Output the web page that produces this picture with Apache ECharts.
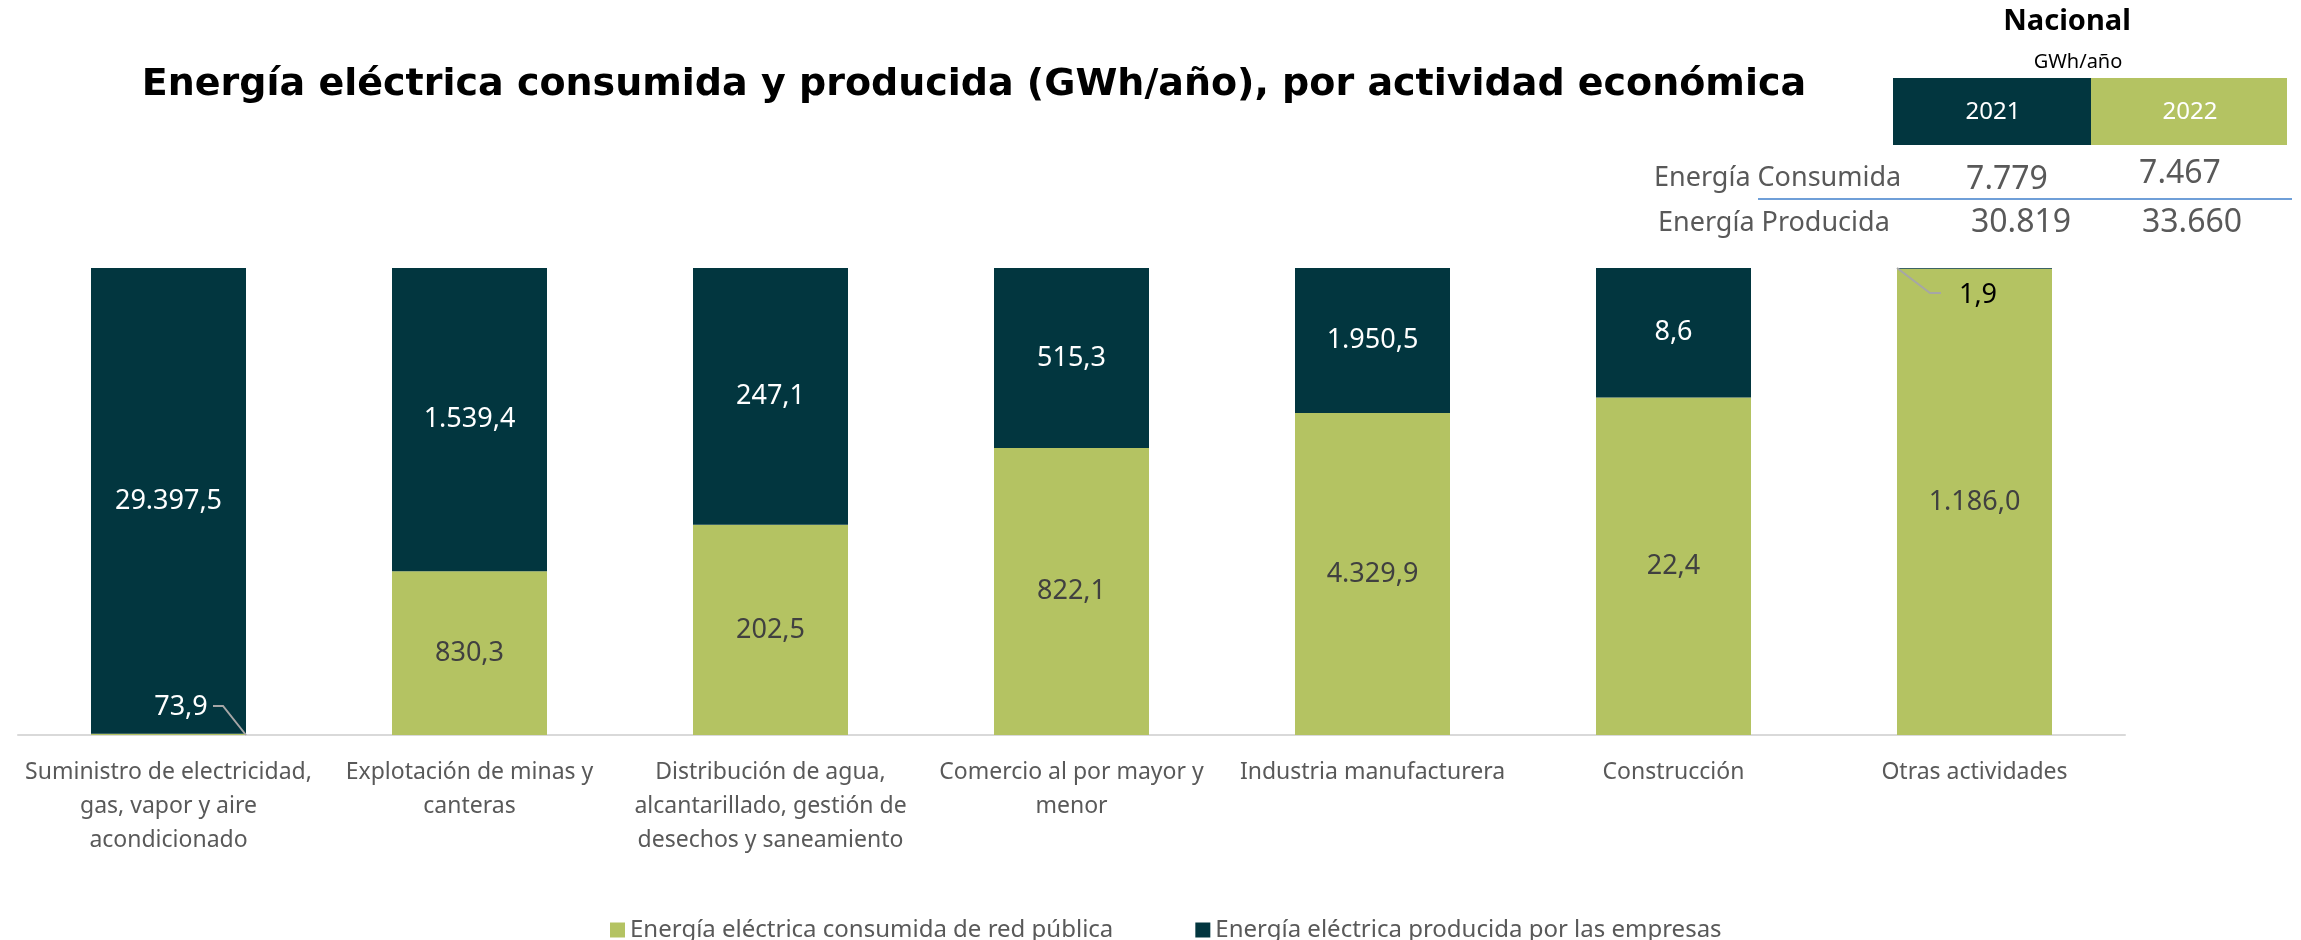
<!DOCTYPE html>
<html>
<head>
<meta charset="utf-8">
<script src="https://cdn.jsdelivr.net/npm/echarts@6/dist/echarts.min.js"></script>
<style>
  html, body { margin: 0; padding: 0; background: #fff; }
  #main { width: 2301px; height: 940px; }
</style>
</head>
<body>
<div id="main"></div>
<script>
// categorias (saltos de linea como en el original)
var categories = [
  'Suministro de electricidad,\ngas, vapor y aire\nacondicionado',
  'Explotación de minas y\ncanteras',
  'Distribución de agua,\nalcantarillado, gestión de\ndesechos y saneamiento',
  'Comercio al por mayor y\nmenor',
  'Industria manufacturera',
  'Construcción',
  'Otras actividades'
];
var consumida = [73.9, 830.3, 202.5, 822.1, 4329.9, 22.4, 1186.0];
var producida = [29397.5, 1539.4, 247.1, 515.3, 1950.5, 8.6, 1.9];
var seriesNames = ['Energía eléctrica consumida de red pública', 'Energía eléctrica producida por las empresas'];

// tabla nacional
var years = ['2021', '2022'];
var nacionalConsumida = [7779, 7467];
var nacionalProducida = [30819, 33660];

var GREEN = '#b4c362';
var DARK = '#02363f';
var BAR_W = 155;

// formato es: 29.397,5
function fmt(v, dec) {
  var s = v.toFixed(dec);
  var parts = s.split('.');
  var ent = parts[0].replace(/\B(?=(\d{3})+(?!\d))/g, '.');
  return parts.length > 1 ? ent + ',' + parts[1] : ent;
}

function share(arr, i) {
  return arr[i] / (consumida[i] + producida[i]) * 100;
}

var chart = echarts.init(document.getElementById('main'));

var greenData = consumida.map(function (v, i) {
  var d = { value: share(consumida, i) };
  if (i === 0) d.label = { color: '#ffffff' };
  return d;
});
var darkData = producida.map(function (v, i) {
  var d = { value: share(producida, i) };
  if (i === 6) d.label = { color: '#000000' };
  return d;
});

var labelFont = { fontFamily: 'Noto Sans', fontSize: 27 };

var option = {
  animation: false,
  title: {
    text: 'Energía eléctrica consumida y producida (GWh/año), por actividad económica',
    left: 969,
    top: 61,
    textAlign: 'center',
    textStyle: { fontFamily: 'DejaVu Sans', fontWeight: 'bold', fontSize: 38, color: '#000' }
  },
  legend: {
    left: 605,
    top: 913,
    icon: 'rect',
    itemWidth: 15,
    itemHeight: 15,
    itemGap: 82,
    textStyle: { fontFamily: 'Noto Sans', fontSize: 24, color: '#595959' },
    data: seriesNames
  },
  grid: { left: 18, right: 176, top: 268, bottom: 205 },
  xAxis: {
    type: 'category',
    data: categories,
    axisTick: { show: false },
    axisLine: { lineStyle: { color: '#d9d9d9', width: 2 } },
    axisLabel: {
      interval: 0,
      margin: 20,
      fontFamily: 'Noto Sans',
      fontSize: 23,
      lineHeight: 34,
      color: '#595959'
    }
  },
  yAxis: { type: 'value', min: 0, max: 100, show: false, splitLine: { show: false } },
  series: [
    {
      name: seriesNames[0],
      type: 'bar',
      stack: 'total',
      barWidth: BAR_W,
      itemStyle: { color: GREEN },
      label: {
        show: true,
        position: 'inside',
        fontFamily: labelFont.fontFamily,
        fontSize: labelFont.fontSize,
        color: '#404040',
        formatter: function (p) { return fmt(consumida[p.dataIndex], 1); }
      },
      labelLayout: function (p) {
        // 73,9: encima de la base, a la derecha del centro
        if (p.dataIndex === 0) {
          return { x: p.rect.x + 90, y: p.rect.y + p.rect.height - 28, align: 'center', verticalAlign: 'middle' };
        }
      },
      data: greenData
    },
    {
      name: seriesNames[1],
      type: 'bar',
      stack: 'total',
      barWidth: BAR_W,
      itemStyle: { color: DARK },
      label: {
        show: true,
        position: 'inside',
        fontFamily: labelFont.fontFamily,
        fontSize: labelFont.fontSize,
        color: '#ffffff',
        formatter: function (p) { return fmt(producida[p.dataIndex], 1); }
      },
      labelLayout: function (p) {
        // 1,9: debajo del borde superior
        if (p.dataIndex === 6) {
          return { x: p.rect.x + 81, y: p.rect.y + 27, align: 'center', verticalAlign: 'middle' };
        }
      },
      data: darkData
    }
  ]
};
chart.setOption(option);

// lineas guia de las etiquetas pequeñas
var c0 = chart.convertToPixel({ xAxisIndex: 0, yAxisIndex: 0 }, [0, 0]);
var c6 = chart.convertToPixel({ xAxisIndex: 0, yAxisIndex: 0 }, [6, 100]);
var half = BAR_W / 2;
var l0 = c0[0] - half;
var l6 = c6[0] - half;

var graphics = [
  { type: 'polyline', z: 100, shape: { points: [[l0 + 122, c0[1] - 29], [l0 + 132, c0[1] - 29], [l0 + BAR_W, c0[1]]] },
    style: { stroke: '#a6a6a6', lineWidth: 2, fill: null } },
  { type: 'polyline', z: 100, shape: { points: [[l6, c6[1]], [l6 + 33, c6[1] + 25], [l6 + 44, c6[1] + 25]] },
    style: { stroke: '#a6a6a6', lineWidth: 2, fill: null } },
  // tabla Nacional
  { type: 'text', x: 2067, y: 22, style: { text: 'Nacional', font: 'bold 29px "Noto Sans"', fill: '#000', align: 'center', verticalAlign: 'middle' } },
  { type: 'text', x: 2078, y: 62, style: { text: 'GWh/año', font: '20px "Noto Sans"', fill: '#000', align: 'center', verticalAlign: 'middle' } },
  { type: 'rect', shape: { x: 1893, y: 78, width: 198, height: 67 }, style: { fill: DARK } },
  { type: 'rect', shape: { x: 2091, y: 78, width: 196, height: 67 }, style: { fill: GREEN } },
  { type: 'line', shape: { x1: 1758, y1: 199, x2: 2292, y2: 199 }, style: { stroke: '#6f9fd8', lineWidth: 2 } },
  { type: 'text', x: 1654, y: 178, style: { text: 'Energía Consumida', font: '27px "Noto Sans"', fill: '#595959', align: 'left', verticalAlign: 'middle' } },
  { type: 'text', x: 1658, y: 223, style: { text: 'Energía Producida', font: '27px "Noto Sans"', fill: '#595959', align: 'left', verticalAlign: 'middle' } }
];
var yearX = [1993, 2190];
var consY = [180, 174];
var consX = [2007, 2180];
var prodX = [2021, 2192];
years.forEach(function (yr, i) {
  graphics.push({ type: 'text', x: yearX[i], y: 112, style: { text: yr, font: '24px "Noto Sans"', fill: '#ffffff', align: 'center', verticalAlign: 'middle' } });
  graphics.push({ type: 'text', x: consX[i], y: consY[i], style: { text: fmt(nacionalConsumida[i], 0), font: '32px "Noto Sans"', fill: '#595959', align: 'center', verticalAlign: 'middle' } });
  graphics.push({ type: 'text', x: prodX[i], y: 223, style: { text: fmt(nacionalProducida[i], 0), font: '32px "Noto Sans"', fill: '#595959', align: 'center', verticalAlign: 'middle' } });
});
chart.setOption({ graphic: graphics });
</script>
</body>
</html>
